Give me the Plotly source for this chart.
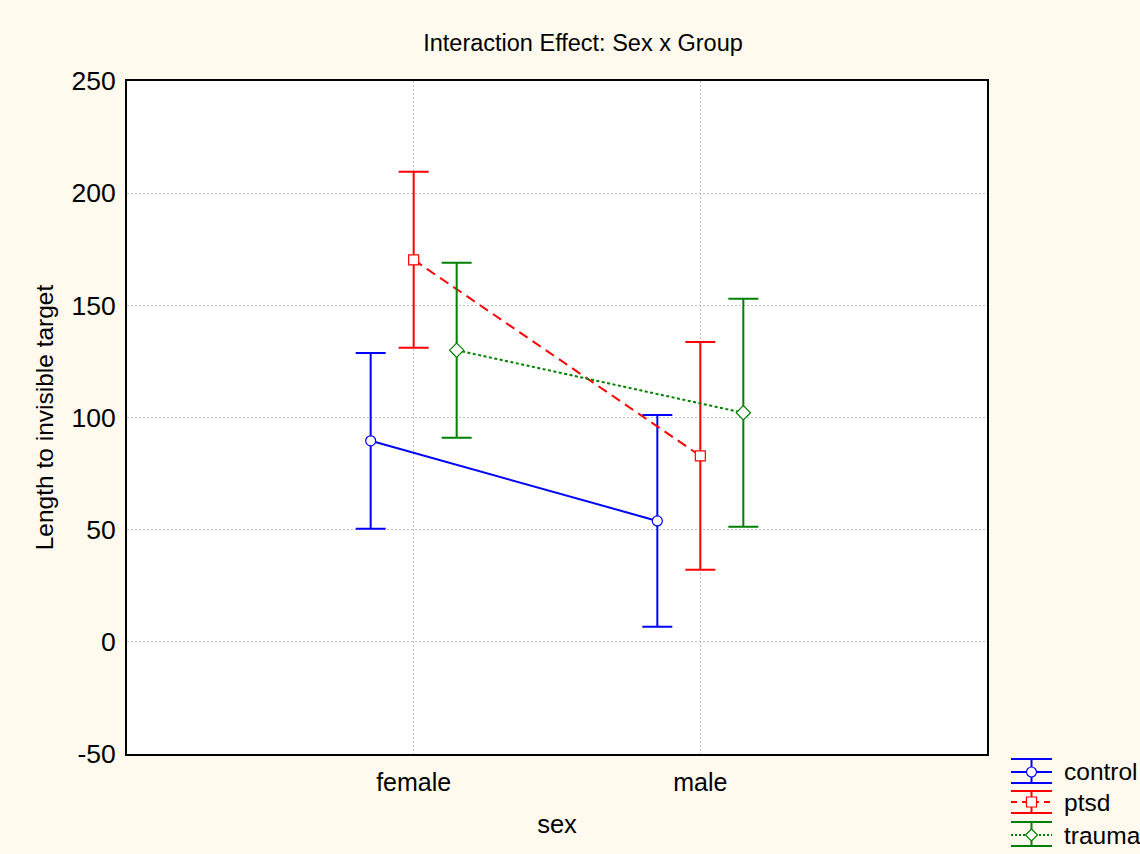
import plotly.graph_objects as go

categories = ["female", "male"]
groups = ["control", "ptsd", "trauma"]
means = {
    "control": [89.6, 53.9],
    "ptsd": [170.3, 82.9],
    "trauma": [130.0, 102.1],
}
errors = {
    "control": [39.2, 47.2],
    "ptsd": [39.2, 50.8],
    "trauma": [39.0, 50.8],
}
y_tickvals = [-50, 0, 50, 100, 150, 200, 250]
y_ticktext = ["-50", "0", "50", "100", "150", "200", "250"]

offsets = {"control": -0.15, "ptsd": 0.0, "trauma": 0.15}
colors = {"control": "#0000FF", "ptsd": "#FF0000", "trauma": "#008000"}
dashes = {"control": "solid", "ptsd": "10px,6px", "trauma": "3px,2.5px"}
symbols = {"control": "circle", "ptsd": "square", "trauma": "diamond"}

FONT = "Liberation Sans, Arial, sans-serif"

# plot-area geometry (pixels) used for the custom legend placement
L, R, T, B = 127, 987, 81, 754
W, H = 1140, 854


def px(x):
    return (x - L) / (R - L)


def py(y):
    return (B - y) / (B - T)


fig = go.Figure()
for g in groups:
    xs = [i + offsets[g] for i in range(len(categories))]
    fig.add_trace(go.Scatter(
        x=xs, y=means[g], name=g, mode="lines+markers", showlegend=False,
        line=dict(color=colors[g], width=2, dash=dashes[g]),
        marker=dict(symbol=symbols[g], size=10 if g != "trauma" else 11,
                    color="white", line=dict(width=1.2, color=colors[g])),
        error_y=dict(type="data", array=errors[g], visible=True,
                     color=colors[g], thickness=2, width=15),
    ))

# custom legend (mimics error-bar legend symbols)
shapes = []
annotations = []
leg = {
    "control": (759, 772, 783),
    "ptsd": (791, 802, 813),
    "trauma": (822, 835, 846),
}
x0, x1 = 1011, 1052
xc = (x0 + x1) / 2
for g in groups:
    top, mid, bot = leg[g]
    c = colors[g]
    line = dict(color=c, width=2)
    shapes.append(dict(type="line", xref="paper", yref="paper",
                       x0=px(x0), x1=px(x1), y0=py(top), y1=py(top), line=line))
    shapes.append(dict(type="line", xref="paper", yref="paper",
                       x0=px(x0), x1=px(x1), y0=py(bot), y1=py(bot), line=line))
    shapes.append(dict(type="line", xref="paper", yref="paper",
                       x0=px(xc), x1=px(xc), y0=py(top), y1=py(bot), line=line))
    dash = {"control": "solid", "ptsd": "6px,5px", "trauma": "2px,2px"}[g]
    shapes.append(dict(type="line", xref="paper", yref="paper",
                       x0=px(x0), x1=px(x1), y0=py(mid), y1=py(mid),
                       line=dict(color=c, width=2, dash=dash)))
    r = 5
    if g == "control":
        shapes.append(dict(type="circle", xref="paper", yref="paper",
                           x0=px(xc - r), x1=px(xc + r), y0=py(mid + r), y1=py(mid - r),
                           fillcolor="white", line=dict(color=c, width=1.2)))
    elif g == "ptsd":
        shapes.append(dict(type="rect", xref="paper", yref="paper",
                           x0=px(xc - r), x1=px(xc + r), y0=py(mid + r), y1=py(mid - r),
                           fillcolor="white", line=dict(color=c, width=1.2)))
    else:
        rr = 6
        path = (f"M {px(xc - rr)} {py(mid)} L {px(xc)} {py(mid - rr)} "
                f"L {px(xc + rr)} {py(mid)} L {px(xc)} {py(mid + rr)} Z")
        shapes.append(dict(type="path", xref="paper", yref="paper", path=path,
                           fillcolor="white", line=dict(color=c, width=1.2)))
    annotations.append(dict(text=g, xref="paper", yref="paper", x=px(1062), y=py(mid),
                            xanchor="left", yanchor="middle", showarrow=False,
                            font=dict(size=24.5, family=FONT, color="black")))

fig.update_layout(
    width=W, height=H,
    paper_bgcolor="#FFF9EE", plot_bgcolor="white",
    margin=dict(l=L, r=W - R, t=T, b=H - B),
    font=dict(family=FONT, size=23.5, color="black"),
    title=dict(text="Interaction Effect: Sex x Group", x=px(583), xref="paper",
               xanchor="center", y=1 - 43 / H, yanchor="middle",
               font=dict(size=23.5)),
    showlegend=False,
    shapes=shapes,
    annotations=annotations,
)
fig.update_xaxes(
    range=[-1, 2], tickvals=[0, 1], ticktext=categories,
    tickfont=dict(size=25),
    showgrid=True, gridcolor="#C0C0C0", griddash="2px,2px", gridwidth=1,
    showline=True, linecolor="black", linewidth=2, mirror=True,
    ticks="", zeroline=False, ticklabelstandoff=5,
    title=dict(text="sex", standoff=20, font=dict(size=25.5)),
)
fig.update_yaxes(
    range=[-50, 250], tickvals=y_tickvals, ticktext=y_ticktext,
    tickfont=dict(size=26.5),
    showgrid=True, gridcolor="#C0C0C0", griddash="2px,2px", gridwidth=1,
    showline=True, linecolor="black", linewidth=2, mirror=True,
    ticks="", zeroline=False, ticklabelstandoff=4,
    title=dict(text="Length to invisible target", standoff=11, font=dict(size=24.5)),
)

fig.write_html("out.html")
